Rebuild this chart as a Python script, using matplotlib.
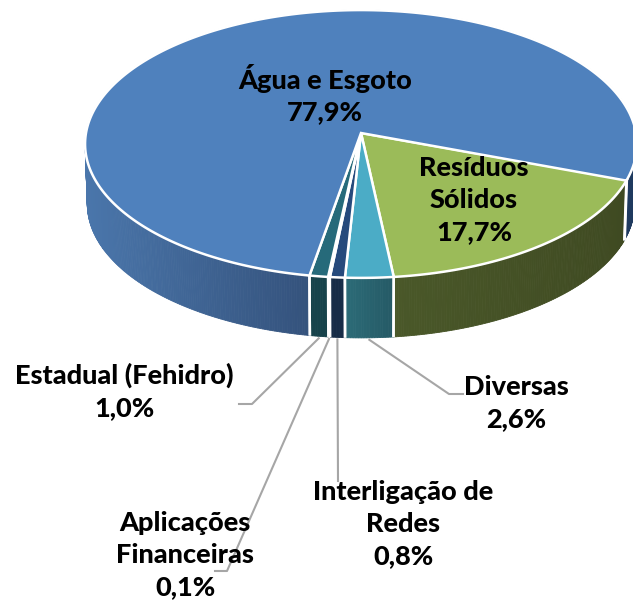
import numpy as np
import matplotlib
matplotlib.use("Agg")
import matplotlib.pyplot as plt
from matplotlib.patches import Polygon
from matplotlib.colors import to_rgb

# clockwise from the resíduos slice
categories = ["Resíduos\nSólidos", "Diversas", "Interligação de\nRedes",
              "Aplicações\nFinanceiras", "Estadual (Fehidro)", "Água e Esgoto"]
values = [17.7, 2.6, 0.8, 0.1, 1.0, 77.9]
top_colors = ["#9bbb59", "#4bacc6", "#264a7c", "#4f81bd", "#266a7a", "#4f81bd"]
side_left = ["#4a5829", "#2c6b78", "#172c47", "#2a4a70", "#17434b", "#4a76ab"]
side_right = ["#3f4a22", "#255a66", "#172c47", "#2a4a70", "#17434b", "#34527c"]

label_pos = [(474, 200), (516, 403), (403, 524), (185, 555), (124, 391), (325, 94)]
# elbow and end of the leader lines, None = no leader
leader_elbow = [None, (449, 394), (338, 481), (227, 571), (252, 404), None]
leader_end = [None, (463, 394), (338, 481), (215, 571), (239, 404), None]

cx, cy = 361, 133
rx, ry = 275, 133
persp = 0.082
depth = 60
bottom_shrink = 0.992
start_angle = -20


def rim(t, drop=0, shrink=1.0):
    t = np.radians(t)
    w = 1 + persp * np.sin(t)
    return cx + shrink * rx * np.cos(t) / w, cy - ry * np.sin(t) / w + drop


fig = plt.figure(figsize=(6.33, 6.03), dpi=100)
ax = fig.add_axes([0, 0, 1, 1])
ax.set_xlim(0, 633)
ax.set_ylim(603, 0)
ax.axis("off")

edges = start_angle - np.cumsum([0] + values) * 3.6

# sides first, the top covers the far half
for i in range(len(values)):
    ts = np.linspace(edges[i], edges[i + 1], max(int(abs(edges[i + 1] - edges[i]) * 2), 2) + 1)
    if abs(edges[i + 1] - edges[i]) < 1:
        continue
    x, y = rim(ts)
    x2, y2 = rim(ts, depth, bottom_shrink)
    cl, cr = np.array(to_rgb(side_left[i])), np.array(to_rgb(side_right[i]))
    for j in range(len(ts) - 1):
        xm = (x[j] + x[j + 1]) / 2
        if values[i] > 50 and xm > cx:
            col = "#1f3a5f"
        else:
            lo, hi = x[np.argmin(x)], x[0] if values[i] > 50 else x.max()
            f = np.clip((xm - lo) / max(hi - lo, 1), 0, 1)
            col = cl + (cr - cl) * f
        ax.add_patch(Polygon([(x[j], y[j]), (x[j + 1], y[j + 1]), (x2[j + 1], y2[j + 1]), (x2[j], y2[j])],
                             closed=True, fc=col, ec=col, lw=0.6, zorder=2))
    # white seam at the slice ends
    for k in (0, -1):
        ax.plot([x[k], x2[k]], [y[k], y2[k]], color="white", lw=1.8, zorder=3, solid_capstyle="butt")

# top of the pie
for i in range(len(values)):
    ts = np.linspace(edges[i], edges[i + 1], max(int(abs(edges[i + 1] - edges[i]) * 2), 2) + 1)
    x, y = rim(ts)
    pts = [(cx, cy)] + list(zip(x, y))
    ax.add_patch(Polygon(pts, closed=True, fc=top_colors[i], ec="white", lw=1.8, joinstyle="miter", zorder=4))

# leader lines
for i in range(len(values)):
    if leader_elbow[i] is None:
        continue
    x0, y0 = rim((edges[i] + edges[i + 1]) / 2, depth + 2)
    ax.plot([x0, leader_elbow[i][0], leader_end[i][0]], [y0, leader_elbow[i][1], leader_end[i][1]],
            color="#a6a6a6", lw=1.5, zorder=5)

for i in range(len(values)):
    txt = categories[i] + "\n" + ("%.1f%%" % values[i]).replace(".", ",")
    ax.text(label_pos[i][0], label_pos[i][1], txt, ha="center", va="center", family="Lato",
            fontweight="black", fontsize=19.5, linespacing=1.39, color="black", zorder=6)

fig.savefig("out.png", dpi=100)
